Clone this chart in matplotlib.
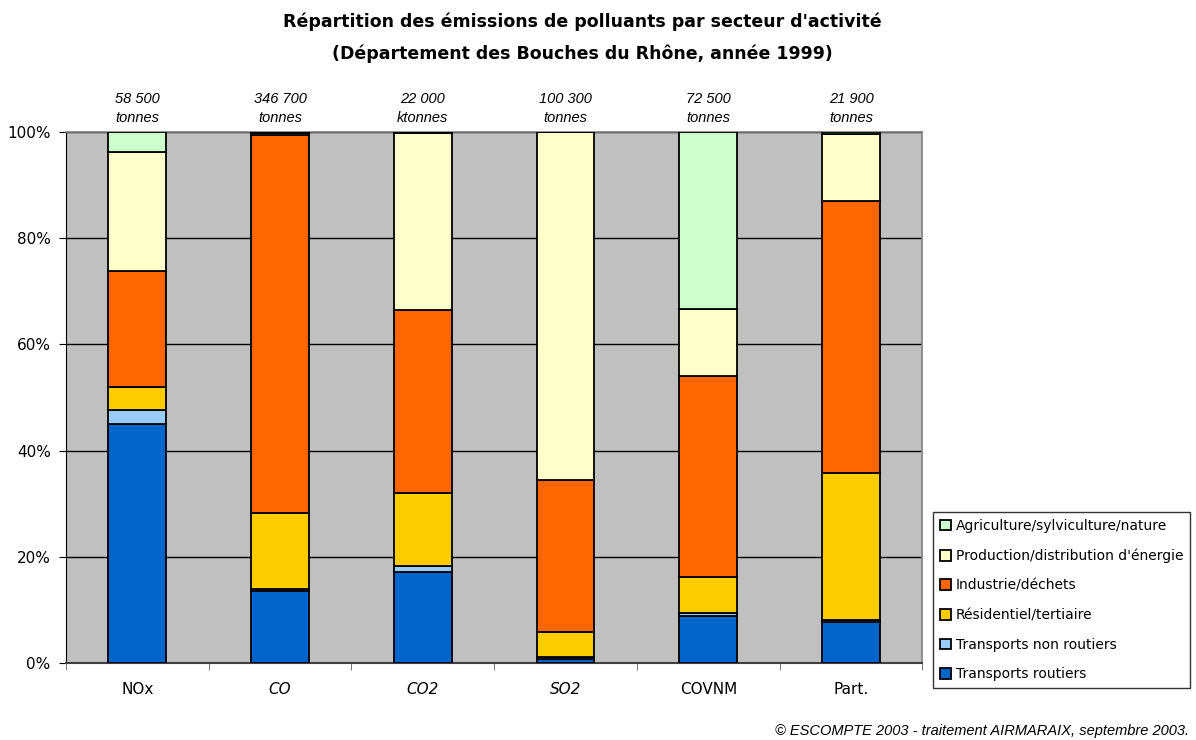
import numpy as np
import matplotlib
matplotlib.use('Agg')
from matplotlib import pyplot as plt

plt.rcParams['font.family'] = ['DejaVu Sans']

polluants = ['NOx', 'CO', 'CO2', 'SO2', 'COVNM', 'Part.']
totaux = ['58 500\ntonnes', '346 700\ntonnes', '22 000\nktonnes',
          '100 300\ntonnes', '72 500\ntonnes', '21 900\ntonnes']

secteurs = ['Transports routiers', 'Transports non routiers', 'Résidentiel/tertiaire',
            'Industrie/déchets', "Production/distribution d'énergie",
            'Agriculture/sylviculture/nature']
couleurs = ['#0066CC', '#99CCFF', '#FFCC00', '#FF6600', '#FFFFCC', '#CCFFCC']

# parts en % par secteur (même ordre que polluants)
routiers = [45.0, 13.6, 17.1, 0.7, 8.9, 7.7]
non_routiers = [2.7, 0.4, 1.1, 0.5, 0.5, 0.4]
residentiel = [4.2, 14.3, 13.9, 4.6, 6.8, 27.7]
industrie = [22.0, 71.2, 34.3, 28.7, 37.8, 51.2]
production = [22.4, 0.3, 33.4, 65.5, 12.7, 12.6]
agriculture = [3.7, 0.2, 0.2, 0.0, 33.3, 0.4]

series = [routiers, non_routiers, residentiel, industrie, production, agriculture]

fig = plt.figure(figsize=(11.96, 7.40), dpi=100)
ax = fig.add_axes([0.0552, 0.104, 0.716, 0.7176])
ax.set_facecolor('#C0C0C0')

x = np.arange(len(polluants))
bas = np.zeros(len(polluants))
for vals, nom, c in zip(series, secteurs, couleurs):
    ax.bar(x, vals, 0.405, bottom=bas, color=c, edgecolor='black',
           linewidth=1.3, label=nom, zorder=3)
    bas += np.array(vals)

ax.set_xlim(-0.5, len(polluants) - 0.5)
ax.set_ylim(0, 100)
ax.set_yticks([0, 20, 40, 60, 80, 100])
ax.set_yticklabels(['0%', '20%', '40%', '60%', '80%', '100%'], fontsize=11)
ax.yaxis.grid(True, color='black', linewidth=1, zorder=1)
ax.set_xticks(x)
ax.set_xticklabels(polluants, fontsize=11)
for lab in ax.get_xticklabels():
    if lab.get_text() in ('CO', 'CO2', 'SO2'):
        lab.set_style('italic')
ax.tick_params(axis='x', length=0, pad=14)
ax.set_xticks(np.arange(-0.5, len(polluants)), minor=True)
ax.tick_params(axis='x', which='minor', length=5, color='#606060')
ax.tick_params(axis='y', length=5, pad=6)

for s in ['top', 'right']:
    ax.spines[s].set_color('#808080')
    ax.spines[s].set_linewidth(1.2)
ax.spines['left'].set_color('black')
ax.spines['bottom'].set_color('#404040')
ax.spines['bottom'].set_linewidth(1.5)

for xi, t in zip(x, totaux):
    ax.text(xi, 101.4, t, ha='center', va='bottom', fontsize=10.5,
            style='italic', family='Liberation Sans', linespacing=1.45)

fig.text(0.487, 0.97, "Répartition des émissions de polluants par secteur d'activité",
         ha='center', va='center', fontsize=12.5, fontweight='bold')
fig.text(0.487, 0.927, "(Département des Bouches du Rhône, année 1999)",
         ha='center', va='center', fontsize=12.5, fontweight='bold')

h, l = ax.get_legend_handles_labels()
leg = fig.legend(h[::-1], l[::-1], loc='lower left', bbox_to_anchor=(0.78, 0.07),
                 fontsize=10, frameon=True, fancybox=False, edgecolor='black',
                 handlelength=0.8, handleheight=0.8, handletextpad=0.35,
                 labelspacing=1.12, borderpad=0.5, borderaxespad=0)
leg.get_frame().set_linewidth(1)

fig.text(0.994, 0.003, '© ESCOMPTE 2003 - traitement AIRMARAIX, septembre 2003.',
         ha='right', va='bottom', fontsize=10.5, style='italic', family='Liberation Sans')

fig.savefig('out.png', dpi=100)
